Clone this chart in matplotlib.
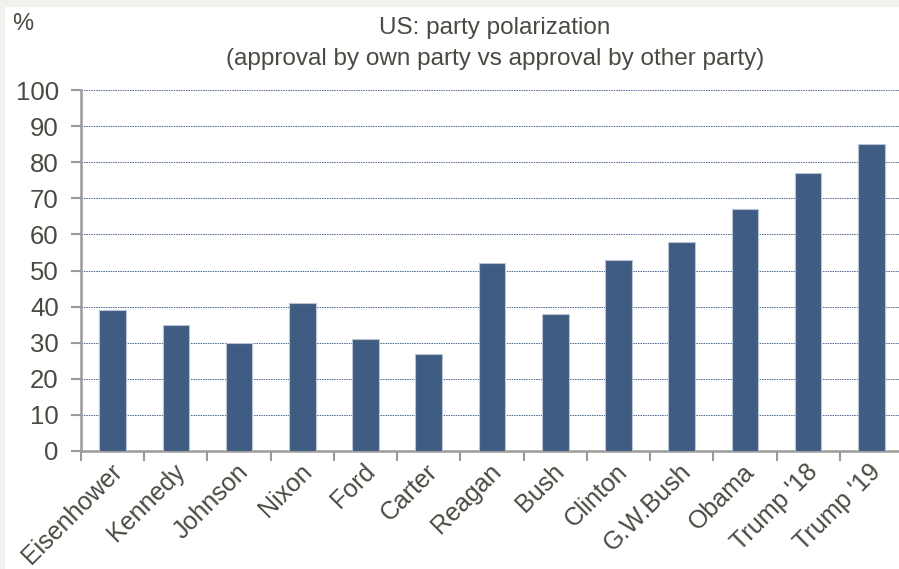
import matplotlib.pyplot as plt
import matplotlib.patches as mpatches
import matplotlib.transforms as mtransforms
import numpy as np

# data
presidents = ['Eisenhower', 'Kennedy', 'Johnson', 'Nixon', 'Ford', 'Carter', 'Reagan',
              'Bush', 'Clinton', 'G.W.Bush', 'Obama', "Trump '18", "Trump '19"]
polarization = [39, 35, 30, 41, 31, 27, 52, 38, 53, 58, 67, 77, 85]
y_ticks = [0, 10, 20, 30, 40, 50, 60, 70, 80, 90, 100]

bar_color = '#3f5c82'
text_color = '#4a4a42'
spine_color = '#9a9a9a'

plt.rcParams['font.family'] = ['Liberation Sans', 'DejaVu Sans']

fig = plt.figure(figsize=(8.99, 5.69), dpi=100)
fig.patch.set_facecolor('#f2f1ed')
# white panel, light border on top and left
fig.patches.append(mpatches.Rectangle((5 / 899, 0), 1, 1 - 7 / 569, transform=fig.transFigure,
                                      facecolor='white', edgecolor='none', zorder=-10))

ax = fig.add_axes([81 / 899, 1 - 451 / 569, 822 / 899, 361 / 569])
ax.set_zorder(5)
ax.set_facecolor('none')

x = np.arange(len(presidents))
ax.bar(x, polarization, width=0.42, color=bar_color, edgecolor='#b8c4d4', linewidth=0.8, zorder=3)

ax.set_xlim(-0.5, len(presidents) - 0.5)
ax.set_ylim(0, 100)
ax.set_yticks(y_ticks)
ax.set_yticklabels([str(v) for v in y_ticks])
for v in y_ticks[1:]:
    ax.axhline(v, color='#4a6590', linestyle=(0, (1.5, 1)), linewidth=0.7, zorder=1)

# x ticks: labels at centres, tick marks at boundaries
ax.set_xticks(x)
ax.set_xticklabels(presidents, rotation=45, ha='right', rotation_mode='anchor')
ax.set_xticks(np.arange(len(presidents) + 1) - 0.5, minor=True)
ax.tick_params(axis='x', which='major', length=0, pad=6, labelsize=18, labelcolor=text_color)
ax.tick_params(axis='x', which='minor', length=7, width=1.5, color=spine_color, direction='out')
ax.tick_params(axis='y', length=7, width=1.5, color=spine_color, pad=9, labelsize=18.5,
               labelcolor=text_color)

# nudge rotated labels slightly left
shift = mtransforms.ScaledTranslation(-3 / 100, 0, fig.dpi_scale_trans)
for lab in ax.get_xticklabels():
    lab.set_transform(lab.get_transform() + shift)

for side in ['top', 'right']:
    ax.spines[side].set_visible(False)
for side in ['left', 'bottom']:
    ax.spines[side].set_color(spine_color)
    ax.spines[side].set_linewidth(1.8)

fig.text(12 / 899, 1 - 30 / 569, '%', fontsize=17, color=text_color, ha='left', va='baseline')
fig.text(495 / 899, 1 - 34 / 569, 'US: party polarization', fontsize=17.5, color=text_color,
         ha='center', va='baseline')
fig.text(495 / 899, 1 - 65 / 569, '(approval by own party vs approval by other party)', fontsize=17.5,
         color=text_color, ha='center', va='baseline')

fig.savefig('out.png', dpi=100, facecolor=fig.get_facecolor())
